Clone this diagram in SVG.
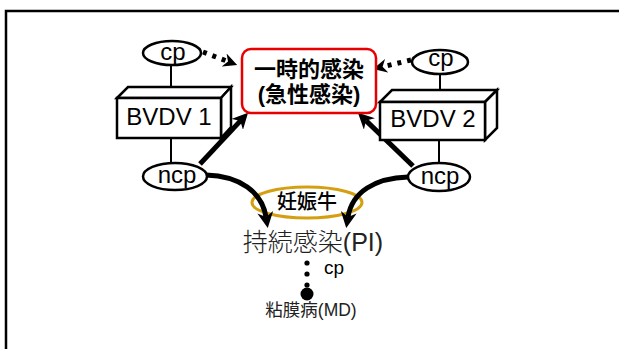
<svg xmlns="http://www.w3.org/2000/svg" width="619" height="349" viewBox="0 0 619 349">
<style>
.lat{font-family:"Liberation Sans",Arial,sans-serif;fill:#000}
.cjk{font-family:"Liberation Sans","Noto Sans CJK JP",sans-serif}
.ol{fill:#fff;stroke:#000;stroke-width:2.5}
.thin{stroke:#000;stroke-width:2;fill:none}
.thick{stroke:#000;stroke-width:5;fill:none}
.dot{stroke:#000;stroke-width:5;fill:none;stroke-dasharray:4 6}
</style>
<defs>
<marker id="ah" viewBox="0 0 10 10" refX="3" refY="5" markerWidth="16" markerHeight="16" markerUnits="userSpaceOnUse" orient="auto"><path d="M0,0 L10,5 L0,10 L3,5 z" fill="#000"/></marker>
<marker id="ahs" viewBox="0 0 10 10" refX="3" refY="5" markerWidth="14" markerHeight="14" markerUnits="userSpaceOnUse" orient="auto"><path d="M0,0 L10,5 L0,10 L3,5 z" fill="#000"/></marker>
</defs>
<rect width="619" height="349" fill="#fff"/>
<path d="M6,349 V11 H619" fill="none" stroke="#000" stroke-width="2.5"/>
<g id="connectors">
<line class="thin" x1="171" y1="65" x2="171" y2="88"/>
<line class="thin" x1="171" y1="138" x2="171" y2="163"/>
<line class="thin" x1="440" y1="74" x2="440" y2="91"/>
<line class="thin" x1="439" y1="140" x2="439" y2="163"/>
<line class="dot" x1="203" y1="52" x2="228" y2="61.5" marker-end="url(#ahs)"/>
<line class="dot" x1="411" y1="60" x2="382.6" y2="66.8" marker-end="url(#ahs)"/>
<line class="thick" x1="200" y1="164" x2="240.4" y2="120.9" marker-end="url(#ah)"/>
<line class="thick" x1="413" y1="166" x2="366" y2="120.6" marker-end="url(#ah)"/>
</g>
<g id="pregnant">
<ellipse cx="307" cy="202.5" rx="55" ry="15.5" fill="none" stroke="#d4a012" stroke-width="3"/>
<text class="cjk" x="307" y="209" font-size="20" text-anchor="middle" font-weight="500">妊娠牛</text>
</g>
<g id="curves">
<path class="thick" d="M206,175 C240,176 262,192 266,217" marker-end="url(#ah)"/>
<path class="thick" d="M408,177 C375,178 352,192 348,217" marker-end="url(#ah)"/>
</g>
<g id="acute">
<rect x="242" y="49" width="134" height="64" rx="9" fill="#fff" stroke="#e80000" stroke-width="2.5"/>
<text class="cjk" x="309" y="77" font-size="22" font-weight="bold" text-anchor="middle">一時的感染</text>
<text class="cjk" x="309" y="102" font-size="22" font-weight="bold" text-anchor="middle">(急性感染)</text>
</g>
<g id="bvdv1">
<polygon class="ol" points="117,98 128,87 231,87 221,98"/>
<polygon class="ol" points="221,98 231,87 231,127 221,138"/>
<rect class="ol" x="117" y="98" width="104" height="40"/>
<text class="lat" x="169" y="125" font-size="24" text-anchor="middle">BVDV 1</text>
</g>
<g id="bvdv2">
<polygon class="ol" points="380,102 392,90 497,90 485,102"/>
<polygon class="ol" points="485,102 497,90 497,128 485,140"/>
<rect class="ol" x="380" y="102" width="105" height="38"/>
<text class="lat" x="433" y="127" font-size="24" text-anchor="middle">BVDV 2</text>
</g>
<g id="cp1">
<ellipse class="ol" cx="172" cy="53" rx="29" ry="12"/>
<text class="lat" x="173" y="60" font-size="24" text-anchor="middle">cp</text>
</g>
<g id="cp2">
<ellipse class="ol" cx="440" cy="62" rx="28" ry="12"/>
<text class="lat" x="441" y="66" font-size="24" text-anchor="middle">cp</text>
</g>
<g id="ncp1">
<ellipse class="ol" cx="175" cy="176.5" rx="32" ry="13.5"/>
<text class="lat" x="177" y="183" font-size="24" text-anchor="middle">ncp</text>
</g>
<g id="ncp2">
<ellipse class="ol" cx="439" cy="177" rx="31" ry="14"/>
<text class="lat" x="440" y="184" font-size="24" text-anchor="middle">ncp</text>
</g>
<g id="pi">
<text class="cjk" x="313" y="251" font-size="25" text-anchor="middle" fill="#222" font-weight="300">持続感染(PI)</text>
</g>
<g id="md-link">
<circle cx="307" cy="263" r="2.6"/>
<circle cx="307" cy="274" r="2.6"/>
<circle cx="307" cy="285" r="2.6"/>
<circle cx="307" cy="294" r="6.5"/>
<text class="lat" x="334" y="274" font-size="19" text-anchor="middle">cp</text>
</g>
<g id="md">
<text class="cjk" x="311" y="316" font-size="17.5" text-anchor="middle" fill="#222">粘膜病(MD)</text>
</g>
</svg>
